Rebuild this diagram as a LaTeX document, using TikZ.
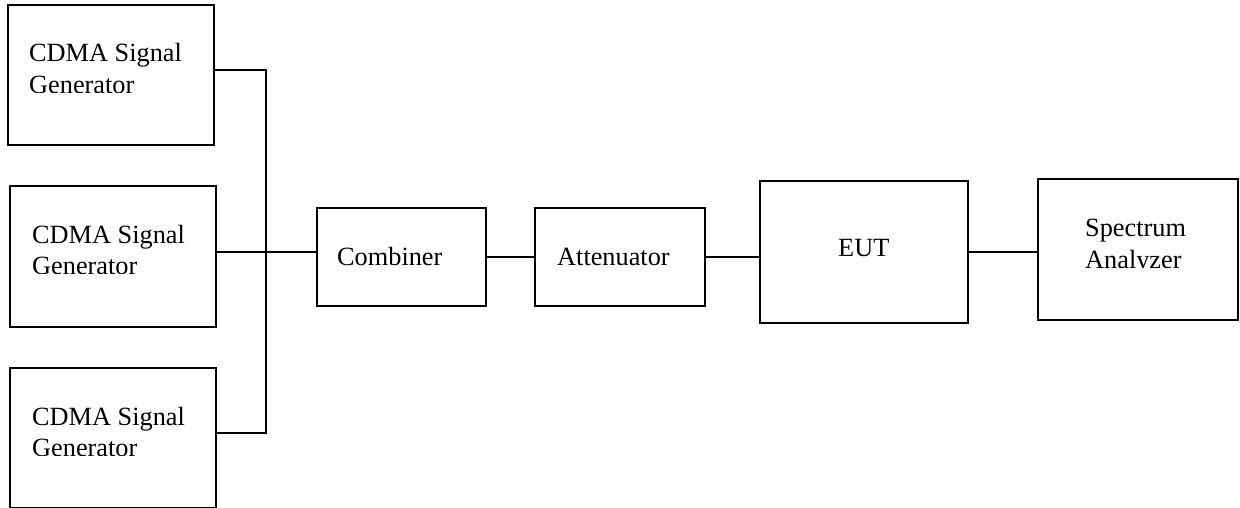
\documentclass[tikz,border=0pt]{standalone}
\usepackage{fontspec}
\setmainfont{Liberation Serif}
\begin{document}
\begin{tikzpicture}[x=1pt,y=-1pt,
  box/.style={draw, line width=1.8pt, inner sep=0pt, anchor=north west},
  lbl/.style={anchor=base west, inner sep=0pt, font=\fontsize{26.3}{30}\selectfont},
  wire/.style={line width=1.8pt}]
\useasboundingbox (0,0) rectangle (1240,508);
% boxes
\node[box, minimum width=206pt, minimum height=140pt] (g1) at (7,4) {};
\node[box, minimum width=206pt, minimum height=141pt] (g2) at (9,185) {};
\node[box, minimum width=206pt, minimum height=140pt] (g3) at (9,367) {};
\node[box, minimum width=169pt, minimum height=98pt] (comb) at (316,207) {};
\node[box, minimum width=170pt, minimum height=98pt] (att) at (534,207) {};
\node[box, minimum width=208pt, minimum height=142pt] (eut) at (759,180) {};
\node[box, minimum width=200pt, minimum height=141pt] (sa) at (1037,178) {};
% labels
\node[lbl] (g1a) at (29,62) {CDMA Signal};
\begin{scope}\clip (20,70) rectangle (205,92.3);
\node[lbl] (g1b) at (29,93.3) {Generator};
\end{scope}
\node[lbl] (g2a) at (32,243) {CDMA Signal};
\begin{scope}\clip (20,250) rectangle (205,273.2);
\node[lbl] (g2b) at (32,274.7) {Generator};
\end{scope}
\node[lbl] (g3a) at (32,425) {CDMA Signal};
\begin{scope}\clip (20,432) rectangle (205,455);
\node[lbl] (g3b) at (32,456.5) {Generator};
\end{scope}
\node[lbl] (combl) at (337,265) {Combiner};
\node[lbl] (attl) at (557,265) {Attenuator};
\node[lbl] (eutl) at (838,256) {EUT};
\node[lbl] (sal1) at (1085,236) {Spectrum};
\begin{scope}\clip (1075,244) rectangle (1235,267);
\node[lbl] (sal2) at (1085,268.8) {Analyzer};
\end{scope}
% connectors
\coordinate (bt) at (266,70);
\coordinate (bm) at (266,252);
\coordinate (bb) at (266,433);
\draw[wire] (g1.east |- bt) -- (bt) -- (bb) -- (g3.east |- bb);
\draw[wire] (g2.east |- bm) -- (comb.west |- bm);
\draw[wire] (comb.east) -- (att.west);
\draw[wire] (att.east) -- (eut.west |- att.east);
\draw[wire] (eut.east) -- (sa.west |- eut.east);
\end{tikzpicture}
\end{document}
